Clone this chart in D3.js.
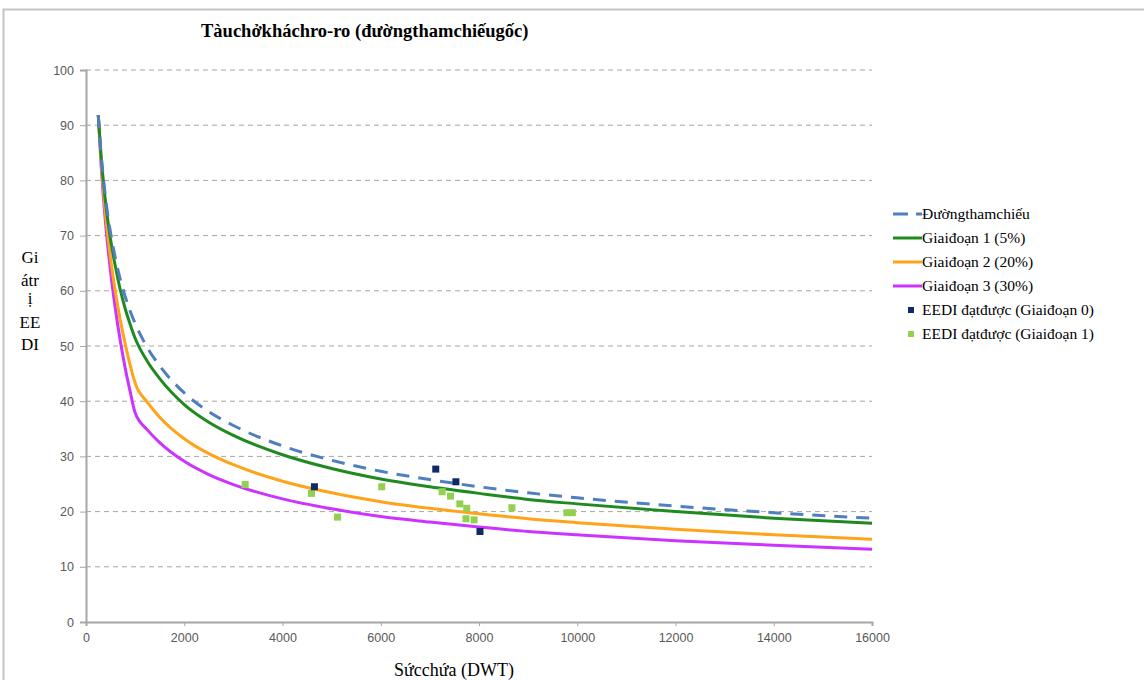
<!DOCTYPE html>
<html>
<head>
<meta charset="utf-8">
<script src="https://cdn.jsdelivr.net/npm/d3@7/dist/d3.min.js"></script>
<style>
  body { margin: 0; background: #fff; }
  svg { display: block; }
</style>
</head>
<body>
<div id="chart"></div>
<script>
// capacity (DWT) sample points
const dwt = [250, 300, 400, 500, 600, 700, 800, 900, 1000, 1250, 1500, 2000, 2500, 3000,
  4000, 5000, 6000, 7000, 8000, 9000, 10000, 12000, 14000, 16000];

const refLine = [91.8, 85.6, 76.7, 70.5, 65.8, 62.0, 58.9, 56.3, 54.1, 49.7, 46.4, 41.5, 38.1, 35.6,
  31.9, 29.3, 27.3, 25.8, 24.5, 23.4, 22.5, 21.0, 19.8, 18.8];
const phase1 = [91.8, 85.3, 75.9, 69.3, 64.3, 60.1, 56.7, 53.9, 51.4, 47.2, 44.1, 39.4, 36.2, 33.8,
  30.3, 27.8, 25.9, 24.5, 23.3, 22.2, 21.4, 20.0, 18.8, 17.9];
const phase2 = [91.8, 84.5, 73.6, 65.8, 59.7, 54.6, 50.3, 46.5, 43.3, 39.8, 37.1, 33.2, 30.5, 28.5,
  25.5, 23.4, 21.8, 20.6, 19.6, 18.7, 18.0, 16.8, 15.8, 15.0];
const phase3 = [91.8, 83.9, 72.1, 63.5, 56.6, 50.8, 45.9, 41.7, 37.9, 34.8, 32.5, 29.1, 26.7, 24.9,
  22.3, 20.5, 19.1, 18.1, 17.2, 16.4, 15.8, 14.7, 13.9, 13.2];

// attained EEDI points
const stage0Dwt = [4650, 7120, 7530, 8020];
const stage0Val = [24.5, 27.7, 25.4, 16.4];
const stage1Dwt = [3240, 4590, 5120, 6020, 7250, 7420, 7610, 7750, 7735, 7900, 8670, 9790, 9900];
const stage1Val = [24.9, 23.3, 19.0, 24.5, 23.6, 22.8, 21.4, 20.6, 18.7, 18.5, 20.7, 19.8, 19.8];

const xTicks = [0, 2000, 4000, 6000, 8000, 10000, 12000, 14000, 16000];
const yTicks = [0, 10, 20, 30, 40, 50, 60, 70, 80, 90, 100];

const title = "Tàuchởkháchro-ro (đườngthamchiếugốc)";
const xTitle = "Sứcchứa (DWT)";
const yTitleLines = ["Gi", "átr", "ị", "EE", "DI"];
const seriesNames = ["Đườngthamchiếu", "Giaiđoạn 1 (5%)", "Giaiđoạn 2 (20%)", "Giaiđoạn 3 (30%)",
  "EEDI đạtđược (Giaiđoạn 0)", "EEDI đạtđược (Giaiđoạn 1)"];

const width = 1144, height = 680;
const margin = { left: 86, right: 272, top: 70, bottom: 58 };

const svg = d3.select("#chart").append("svg")
  .attr("width", width)
  .attr("height", height);

// outer frame
svg.append("rect")
  .attr("x", 3.5).attr("y", 9.5)
  .attr("width", 1160).attr("height", 700)
  .attr("fill", "none")
  .attr("stroke", "#c4c4c4")
  .attr("stroke-width", 2);

const x = d3.scaleLinear().domain([0, 16000]).range([margin.left, width - margin.right]);
const y = d3.scaleLinear().domain([0, 100]).range([height - margin.bottom, margin.top]);

// gridlines
svg.append("g")
  .selectAll("line")
  .data(yTicks.filter(d => d > 0))
  .join("line")
  .attr("x1", x(0)).attr("x2", x(16000))
  .attr("y1", d => y(d)).attr("y2", d => y(d))
  .attr("stroke", "#a6a6a6")
  .attr("stroke-width", 1)
  .attr("stroke-dasharray", "5,4");

// axes
const xAxis = svg.append("g")
  .attr("transform", `translate(0,${y(0)})`)
  .call(d3.axisBottom(x).tickValues(xTicks).tickSize(4).tickPadding(7).tickFormat(d3.format("d")));
const yAxis = svg.append("g")
  .attr("transform", `translate(${x(0)},0)`)
  .call(d3.axisLeft(y).tickValues(yTicks).tickSize(6).tickPadding(6));

[xAxis, yAxis].forEach(g => {
  g.select(".domain").attr("stroke", "#a6a6a6").attr("stroke-width", 2);
  g.selectAll(".tick line").attr("stroke", "#a6a6a6");
  g.selectAll(".tick text")
    .attr("fill", "#595959")
    .style("font-family", "'Liberation Sans', Arial, sans-serif")
    .style("font-size", "12.5px");
});

// curves
const line = d3.line()
  .x(d => x(d[0]))
  .y(d => y(d[1]))
  .curve(d3.curveMonotoneX);

const curves = [
  { vals: phase3, color: "#cc33ff", dash: null },
  { vals: phase2, color: "#ffa31a", dash: null },
  { vals: phase1, color: "#1f8a1f", dash: null },
  { vals: refLine, color: "#4f7fbf", dash: "13,9" }
];

curves.forEach(c => {
  svg.append("path")
    .datum(dwt.map((d, i) => [d, c.vals[i]]))
    .attr("d", line)
    .attr("fill", "none")
    .attr("stroke", c.color)
    .attr("stroke-width", 3)
    .attr("stroke-dasharray", c.dash);
});

// scatter points
const sq = 7;
svg.append("g")
  .selectAll("rect")
  .data(stage1Dwt.map((d, i) => [d, stage1Val[i]]))
  .join("rect")
  .attr("x", d => x(d[0]) - sq / 2)
  .attr("y", d => y(d[1]) - sq / 2)
  .attr("width", sq).attr("height", sq)
  .attr("fill", "#92d050");

svg.append("g")
  .selectAll("rect")
  .data(stage0Dwt.map((d, i) => [d, stage0Val[i]]))
  .join("rect")
  .attr("x", d => x(d[0]) - sq / 2)
  .attr("y", d => y(d[1]) - sq / 2)
  .attr("width", sq).attr("height", sq)
  .attr("fill", "#0f2a66");

// titles
const serif = "'Liberation Serif', 'Times New Roman', serif";
svg.append("text")
  .attr("x", 201).attr("y", 37)
  .style("font-family", serif)
  .style("font-weight", "bold")
  .style("font-size", "18.5px")
  .text(title);

svg.append("text")
  .attr("x", 454).attr("y", 676)
  .attr("text-anchor", "middle")
  .style("font-family", serif)
  .style("font-size", "18px")
  .text(xTitle);

svg.append("g")
  .selectAll("text")
  .data(yTitleLines)
  .join("text")
  .attr("x", 30)
  .attr("y", (d, i) => [263, 286, 304, 328, 350][i])
  .attr("text-anchor", "middle")
  .style("font-family", serif)
  .style("font-size", "17px")
  .text(d => d);

// legend
const legend = svg.append("g").attr("transform", "translate(893,214)");
const legendStyles = [
  { type: "line", color: "#4f7fbf", dash: "15,8" },
  { type: "line", color: "#1f8a1f" },
  { type: "line", color: "#ffa31a" },
  { type: "line", color: "#cc33ff" },
  { type: "sq", color: "#0f2a66" },
  { type: "sq", color: "#92d050" }
];

seriesNames.forEach((name, i) => {
  const g = legend.append("g").attr("transform", `translate(0,${i * 24})`);
  const st = legendStyles[i];
  if (st.type === "line") {
    g.append("line")
      .attr("x1", 0).attr("x2", 29)
      .attr("y1", 0).attr("y2", 0)
      .attr("stroke", st.color)
      .attr("stroke-width", 3)
      .attr("stroke-dasharray", st.dash || null);
  } else {
    g.append("rect")
      .attr("x", 15).attr("y", -3)
      .attr("width", 6).attr("height", 6)
      .attr("fill", st.color);
  }
  g.append("text")
    .attr("x", 29).attr("y", 5)
    .style("font-family", serif)
    .style("font-size", "15.5px")
    .text(name);
});
</script>
</body>
</html>
